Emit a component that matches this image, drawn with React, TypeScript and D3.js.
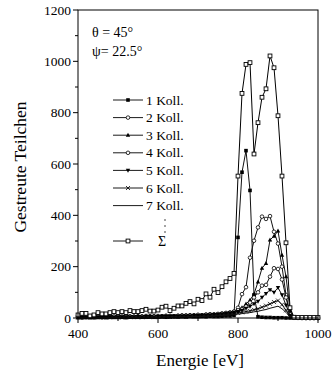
import React from "react";
import * as d3 from "d3";

const energies: number[] = d3.range(400, 1001, 10);

const sigma = [12,18,18,8,12,21,16,16,21,25, 21,25,21,29,25,25,29,34,27,27, 31,42,46,29,38,47,47,57,64,55, 73,68,94,81,112,99,122,141,154,174,
  553,875,988,995,639,761,860,893,1021,975,788,553,293,40,3,2,2,2,2,2,2];
const koll1 = [3,2,4,3,2,3,4,2,3,3, 4,3,2,4,3,3,4,3,4,3, 4,5,3,4,5,4,5,4,6,5, 5,6,5,7,6,6,7,8,8,10,
  314,568,652,497,90,5,3,2,2,1,1,1,0,0,0,0,0,0,0,0,0];
const koll2 = [4,5,3,4,6,5,4,5,6,5, 6,5,7,6,5,7,6,8,7,6, 8,7,9,8,7,9,10,9,11,10, 12,11,13,12,14,15,16,18,20,24,
  40,93,120,235,301,353,395,386,397,336,290,200,90,15,2,1,1,0,0,0,0];
const koll3 = [2,3,3,2,4,3,3,4,3,4, 4,3,5,4,4,5,4,5,5,6, 5,6,6,7,6,7,8,7,9,8, 10,9,11,12,13,14,16,17,20,23,
  28,40,55,70,93,141,194,213,304,319,339,245,161,30,2,1,0,0,0,0,0];
const koll4 = [3,2,4,3,3,4,3,4,4,5, 4,5,4,6,5,5,6,5,6,7, 6,7,7,8,7,8,9,10,9,11, 12,11,13,15,14,16,18,20,22,25,
  30,35,45,60,80,100,126,129,161,194,191,150,80,15,2,1,0,0,0,0,0];
const koll5 = [2,2,3,2,3,3,2,3,4,3, 3,4,3,4,4,5,4,5,5,4, 5,6,5,6,7,6,7,8,7,9, 9,10,11,12,13,14,16,18,20,22,
  25,30,38,45,55,65,80,95,110,100,118,90,50,10,1,0,0,0,0,0,0];
const koll6 = [1,2,2,1,2,2,3,2,2,3, 3,2,3,3,4,3,3,4,4,3, 4,4,5,4,5,5,6,5,6,7, 7,8,8,9,10,11,12,13,15,17,
  20,22,25,28,32,36,42,48,55,62,68,52,30,6,1,0,0,0,0,0,0];
const koll7 = [1,1,2,1,2,1,2,2,1,2, 2,2,3,2,2,3,2,3,3,3, 3,4,3,4,4,4,5,4,5,6, 6,6,7,7,8,9,10,11,12,14,
  15,17,19,21,24,26,30,33,38,42,46,36,22,5,1,0,0,0,0,0,0];

const seriesNames = ["1 Koll.", "2 Koll.", "3 Koll.", "4 Koll.", "5 Koll.", "6 Koll.", "7 Koll."];
const seriesMarkers = ["fsquare", "ocircle", "ftri", "ocircle", "dtri", "cross", "none"];
const seriesValues = [koll1, koll2, koll3, koll4, koll5, koll6, koll7];

const yTicks = [0, 200, 400, 600, 800, 1000, 1200];
const yMinor = [100, 300, 500, 700, 900, 1100];
const xTicks = [400, 600, 800, 1000];
const xMinor = [500, 700, 900];

const W = 334, H = 375;
const font = "'Liberation Serif', 'Times New Roman', serif";

function Marker({ type, x, y }: { type: string; x: number; y: number }) {
  const s = 1.8;
  switch (type) {
    case "fsquare":
      return <rect x={x - s} y={y - s} width={2 * s} height={2 * s} fill="#000" />;
    case "osquare":
      return <rect x={x - 1.9} y={y - 1.9} width={3.8} height={3.8} fill="#fff" stroke="#000" strokeWidth={0.9} />;
    case "ocircle":
      return <circle cx={x} cy={y} r={1.8} fill="#fff" stroke="#000" strokeWidth={0.8} />;
    case "ftri":
      return <path d={`M${x},${y - 2.4}L${x + 2.2},${y + 1.6}L${x - 2.2},${y + 1.6}Z`} fill="#000" />;
    case "dtri":
      return <path d={`M${x},${y + 2.4}L${x + 2.2},${y - 1.6}L${x - 2.2},${y - 1.6}Z`} fill="#000" />;
    case "cross":
      return <path d={`M${x - 2},${y - 2}L${x + 2},${y + 2}M${x - 2},${y + 2}L${x + 2},${y - 2}`} stroke="#000" strokeWidth={0.8} />;
    default:
      return null;
  }
}

export default function App() {
  const x = d3.scaleLinear().domain([400, 1000]).range([78, 318]);
  const y = d3.scaleLinear().domain([0, 1200]).range([318, 10]);
  const line = d3.line<number>().x((_, i) => x(energies[i])).y((d) => y(d));

  const legendY0 = 100, legendDy = 17.6;

  return (
    <svg width={W} height={H} style={{ position: "absolute", left: 0, top: 0, background: "#fff" }} fontFamily={font}>
      <rect width={W} height={H} fill="#fff" />
      {/* series */}
      {seriesValues.map((vals, k) => (
        <g key={k}>
          <path d={line(vals) || ""} fill="none" stroke="#111" strokeWidth={1} />
          {vals.map((v, i) => (
            <Marker key={i} type={seriesMarkers[k]} x={x(energies[i])} y={y(v)} />
          ))}
        </g>
      ))}
      <g>
        <path d={line(sigma) || ""} fill="none" stroke="#000" strokeWidth={1} />
        {sigma.map((v, i) => (
          <Marker key={i} type="osquare" x={x(energies[i])} y={y(v)} />
        ))}
      </g>
      {/* frame */}
      <rect x={x(400)} y={y(1200)} width={x(1000) - x(400)} height={y(0) - y(1200)} fill="none" stroke="#000" strokeWidth={1} />
      {/* y axis ticks */}
      {yTicks.map((t) => (
        <g key={t}>
          <line x1={x(400) - 5} x2={x(400)} y1={y(t)} y2={y(t)} stroke="#000" />
          <text x={x(400) - 7} y={y(t) + 4.5} textAnchor="end" fontSize={13.5}>{t}</text>
        </g>
      ))}
      {yMinor.map((t) => (
        <line key={t} x1={x(400) - 3} x2={x(400)} y1={y(t)} y2={y(t)} stroke="#000" />
      ))}
      {xTicks.map((t) => (
        <g key={t}>
          <line x1={x(t)} x2={x(t)} y1={y(0)} y2={y(0) + 5} stroke="#000" />
          <text x={x(t)} y={y(0) + 20} textAnchor="middle" fontSize={13.5}>{t}</text>
        </g>
      ))}
      {xMinor.map((t) => (
        <line key={t} x1={x(t)} x2={x(t)} y1={y(0)} y2={y(0) + 3} stroke="#000" />
      ))}
      {/* axis titles */}
      <text x={200} y={366} textAnchor="middle" fontSize={17}>Energie [eV]</text>
      <text transform="translate(26,167) rotate(-90)" textAnchor="middle" fontSize={17.5}>Gestreute Teilchen</text>
      {/* annotations */}
      <text x={92} y={37} fontSize={14}>θ = 45°</text>
      <text x={92} y={56} fontSize={14}>ψ= 22.5°</text>
      {/* legend */}
      {seriesNames.map((name, k) => {
        const ly = legendY0 + k * legendDy;
        return (
          <g key={name}>
            <line x1={113} x2={143} y1={ly} y2={ly} stroke="#000" strokeWidth={0.9} />
            <Marker type={seriesMarkers[k]} x={128} y={ly} />
            <text x={146} y={ly + 4.5} fontSize={13.5}>{name}</text>
          </g>
        );
      })}
      {[220, 226, 232].map((dy) => (
        <circle key={dy} cx={165} cy={dy} r={0.7} fill="#000" />
      ))}
      <line x1={113} x2={143} y1={241} y2={241} stroke="#000" strokeWidth={0.9} />
      <Marker type="osquare" x={128} y={241} />
      <text x={158} y={246} fontSize={14}>Σ</text>
    </svg>
  );
}
